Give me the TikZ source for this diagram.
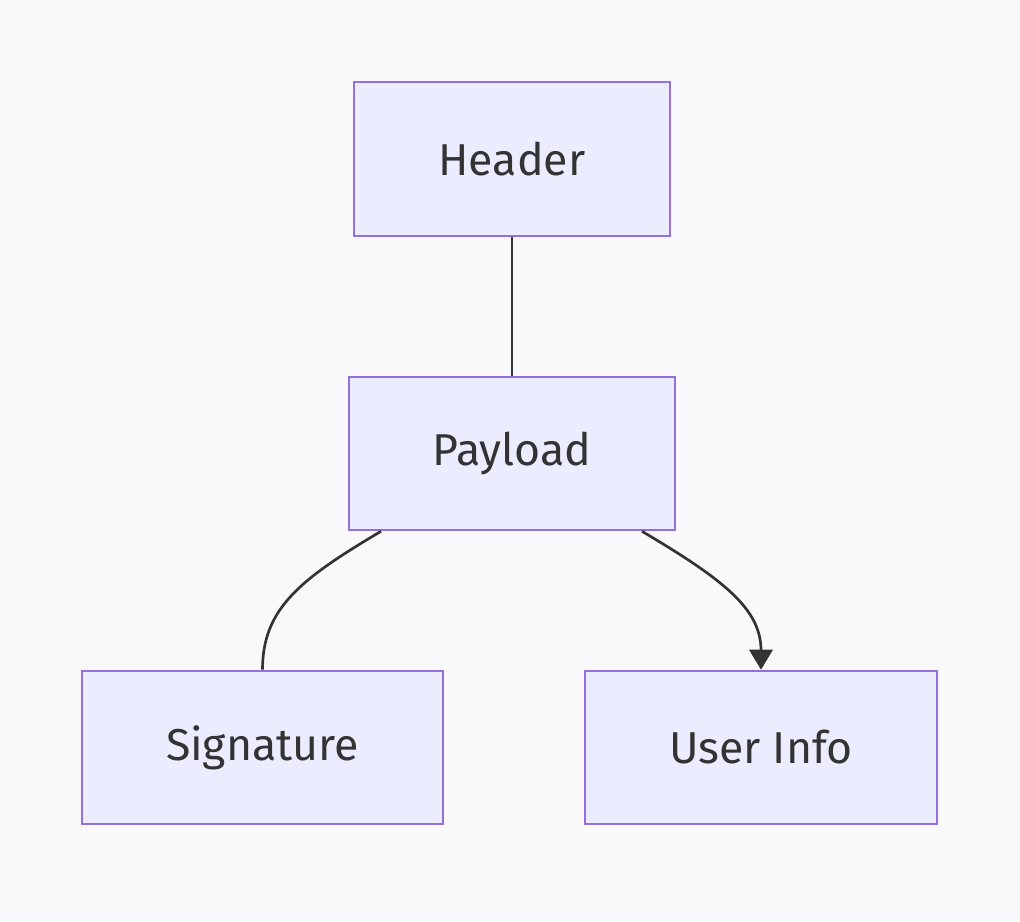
\documentclass[tikz,border=0pt]{standalone}
\usepackage{fontspec}
\setmainfont{Fira Sans}
\usetikzlibrary{arrows.meta}
\definecolor{boxfill}{HTML}{ECECFF}
\definecolor{boxline}{HTML}{9370DB}
\definecolor{ink}{HTML}{333333}
\definecolor{paper}{HTML}{F9F9FB}
\begin{document}
\begin{tikzpicture}[x=0.75pt,y=-0.75pt,
    block/.style={draw=boxline,fill=boxfill,line width=1.7pt,text=ink,
      font=\fontsize{33.5}{40}\selectfont,minimum height=115pt,inner sep=0pt},
    link/.style={draw=ink,line width=2pt}]
  \fill[paper] (0,0) rectangle (1020,921);
  \node[block,minimum width=237pt] (header) at (512,159) {Header};
  \node[block,minimum width=244.5pt] (payload) at (512,453.5) {Payload};
  \node[block,minimum width=270.75pt] (signature) at (262.5,747.5) {Signature};
  \node[block,minimum width=264pt] (userinfo) at (761,747.5) {User Info};
  \begin{scope}[link]
    \draw (header) to (payload);
    \draw ([xshift=-98.25pt]payload.south) .. controls +(-81,48) and +(0,-61) .. (signature.north);
    \draw[-{Triangle[length=15pt,width=17.5pt]}] ([xshift=97.5pt]payload.south) .. controls +(81,48) and +(0,-61) .. (userinfo.north);
  \end{scope}
\end{tikzpicture}
\end{document}
